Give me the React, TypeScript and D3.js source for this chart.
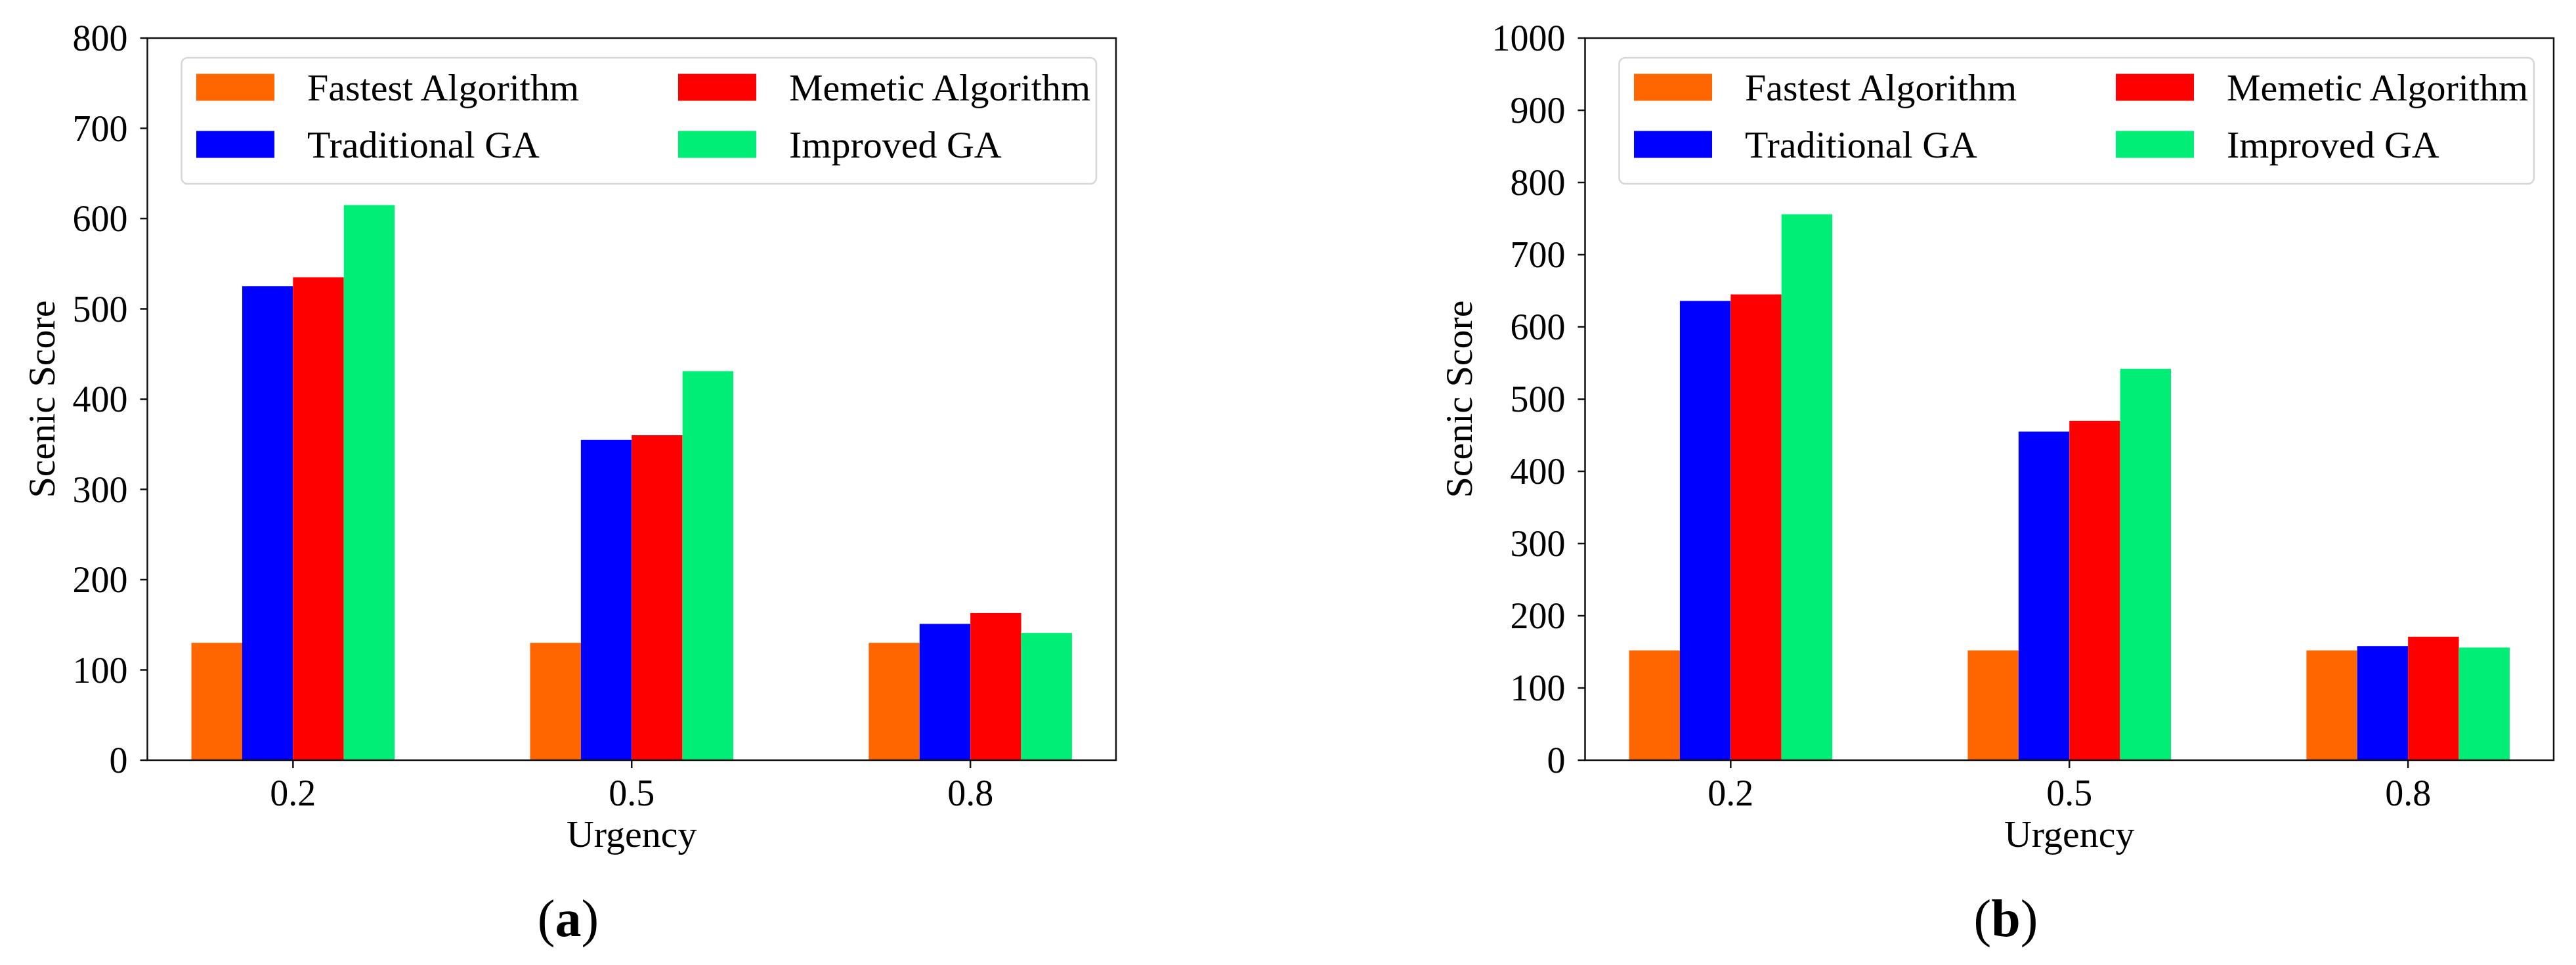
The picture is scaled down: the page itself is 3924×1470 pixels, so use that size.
import React from "react";
import * as d3 from "d3";

// ---- data ----
const categories = ["0.2", "0.5", "0.8"];
const seriesNames = ["Fastest Algorithm", "Traditional GA", "Memetic Algorithm", "Improved GA"];
const seriesColors = ["#FF6600", "#0000FF", "#FF0000", "#00EE76"];

const fastestA = [130, 130, 130];
const traditionalA = [525, 355, 151];
const memeticA = [535, 360, 163];
const improvedA = [615, 431, 141];

const fastestB = [152, 152, 152];
const traditionalB = [636, 455, 158];
const memeticB = [645, 470, 171];
const improvedB = [756, 542, 156];

const yTicksA = [0, 100, 200, 300, 400, 500, 600, 700, 800];
const yTicksB = [0, 100, 200, 300, 400, 500, 600, 700, 800, 900, 1000];

const xLabel = "Urgency";
const yLabel = "Scenic Score";

const FONT = "'Liberation Serif', 'Times New Roman', serif";

type PanelProps = {
  left: number;
  series: number[][];
  yTicks: number[];
  yMax: number;
  caption: string;
  yLabelOffset: number;
};

function Panel({ left, series, yTicks, yMax, caption, yLabelOffset }: PanelProps) {
  const width = 1475.5;
  const top = 58;
  const bottom = 1158;
  const right = left + width;
  const x = d3.scaleLinear().domain([-0.43, 2.43]).range([left, right]);
  const y = d3.scaleLinear().domain([0, yMax]).range([bottom, top]);
  const bw = 0.15;

  const legLeft = left + 52;
  const legTop = 88;
  const legRight = right - 30;
  const legBottom = 280;
  const rowCenters = [133, 220];
  const colOffset = 734;

  return (
    <g>
      {/* bars */}
      {series.map((vals, si) =>
        vals.map((v, ci) => {
          const cx = ci + (si - 1.5) * bw;
          const x0 = x(cx - bw / 2);
          const x1 = x(cx + bw / 2);
          return (
            <rect
              key={`${si}-${ci}`}
              x={x0}
              y={y(v)}
              width={x1 - x0}
              height={y(0) - y(v)}
              fill={seriesColors[si]}
            />
          );
        })
      )}
      {/* spines */}
      <rect x={left} y={top} width={width} height={bottom - top} fill="none" stroke="#111" strokeWidth={2.5} />
      {/* y ticks */}
      {yTicks.map((t) => (
        <g key={`yt${t}`}>
          <line x1={left - 11} x2={left} y1={y(t)} y2={y(t)} stroke="#111" strokeWidth={2.5} />
          <text x={left - 30} y={y(t) + 19} textAnchor="end" fontFamily={FONT} fontSize={56} fill="#000">
            {t}
          </text>
        </g>
      ))}
      {/* x ticks */}
      {categories.map((c, i) => (
        <g key={`xt${c}`}>
          <line x1={x(i)} x2={x(i)} y1={bottom} y2={bottom + 12} stroke="#111" strokeWidth={2.5} />
          <text x={x(i)} y={1227} textAnchor="middle" fontFamily={FONT} fontSize={56} fill="#000">
            {c}
          </text>
        </g>
      ))}
      {/* axis labels */}
      <text x={x(1)} y={1290} textAnchor="middle" fontFamily={FONT} fontSize={58} fill="#000">
        {xLabel}
      </text>
      <text
        transform={`translate(${left - yLabelOffset}, ${(top + bottom) / 2}) rotate(-90)`}
        textAnchor="middle"
        fontFamily={FONT}
        fontSize={58}
        fill="#000"
      >
        {yLabel}
      </text>
      {/* legend */}
      <rect
        x={legLeft}
        y={legTop}
        width={legRight - legLeft}
        height={legBottom - legTop}
        rx={9}
        ry={9}
        fill="#fff"
        fillOpacity={0.8}
        stroke="#d6d6d6"
        strokeWidth={2.5}
      />
      {seriesNames.map((name, i) => {
        const col = Math.floor(i / 2);
        const row = i % 2;
        const px = legLeft + 22.5 + col * colOffset;
        const cy = rowCenters[row];
        return (
          <g key={name}>
            <rect x={px} y={cy - 20.5} width={119} height={41} fill={seriesColors[i]} />
            <text x={px + 169} y={cy + 20} fontFamily={FONT} fontSize={58} fill="#000">
              {name}
            </text>
          </g>
        );
      })}
      {/* caption */}
      <text x={left + 641} y={1426} textAnchor="middle" fontFamily={FONT} fontSize={80} fill="#000">
        (<tspan fontWeight="bold">{caption}</tspan>)
      </text>
    </g>
  );
}

export default function App() {
  return (
    <svg
      width={3924}
      height={1470}
      viewBox="0 0 3924 1470"
      style={{ position: "absolute", left: 0, top: 0, background: "#fff" }}
    >
      <rect x={0} y={0} width={3924} height={1470} fill="#fff" />
      <Panel
        left={224.5}
        series={[fastestA, traditionalA, memeticA, improvedA]}
        yTicks={yTicksA}
        yMax={800}
        caption="a"
        yLabelOffset={141.5}
      />
      <Panel
        left={2414.5}
        series={[fastestB, traditionalB, memeticB, improvedB]}
        yTicks={yTicksB}
        yMax={1000}
        caption="b"
        yLabelOffset={172.5}
      />
    </svg>
  );
}
